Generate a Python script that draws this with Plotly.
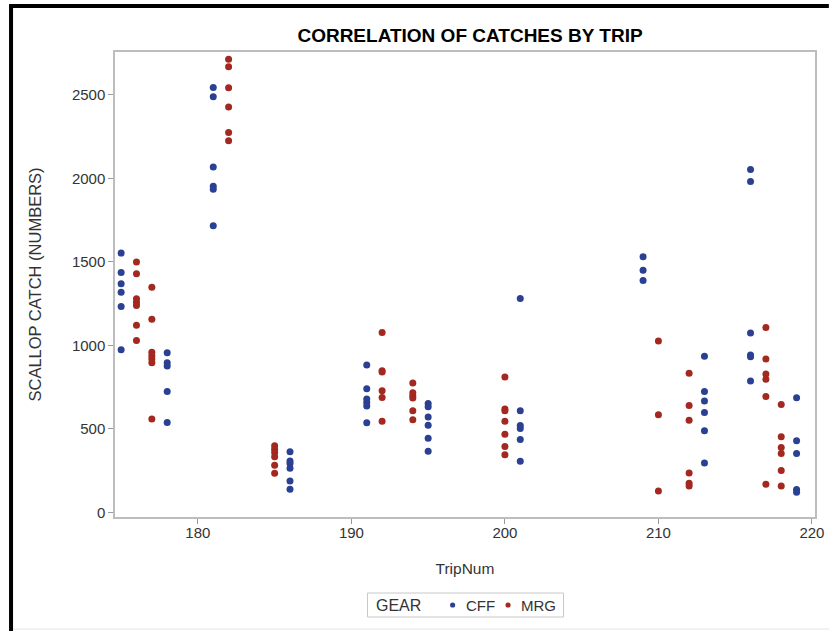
import plotly.graph_objects as go

# Scallop catch per trip, split by gear type
cff_trip = [175]*6 + [178]*5 + [181]*6 + [186]*6 + [191]*6 + [195]*6 + [201]*6 + [209]*3 + [213]*6 + [216]*6 + [219]*5
cff_catch = [1553, 1437, 1369, 1319, 1233, 975,
             957, 897, 877, 725, 539,
             2545, 2489, 2069, 1953, 1935, 1717,
             363, 309, 293, 265, 189, 139,
             883, 741, 679, 659, 637, 537,
             653, 633, 571, 523, 445, 367,
             1281, 609, 521, 503, 437, 307,
             1531, 1451, 1389,
             935, 725, 667, 599, 489, 297,
             2053, 1981, 1075, 943, 933, 787,
             687, 429, 353, 137, 121]

mrg_trip = [176]*7 + [177]*7 + [182]*6 + [185]*6 + [192]*6 + [194]*6 + [200]*7 + [210]*3 + [212]*6 + [217]*6 + [218]*6
mrg_catch = [1499, 1429, 1279, 1259, 1239, 1121, 1029,
             1349, 1157, 959, 939, 919, 897, 559,
             2713, 2669, 2543, 2427, 2275, 2225,
             399, 379, 359, 333, 283, 235,
             1077, 849, 841, 729, 689, 547,
             775, 717, 699, 685, 609, 555,
             811, 619, 609, 547, 469, 395, 345,
             1027, 585, 129,
             833, 641, 553, 237, 175, 159,
             1107, 919, 829, 797, 695, 169,
             647, 453, 389, 353, 251, 159]

x_ticks = [180, 190, 200, 210, 220]
y_ticks = [0, 500, 1000, 1500, 2000, 2500]

gear_names = ["CFF", "MRG"]
BLUE = "#2A4093"
RED = "#A3281F"
gear_colors = [BLUE, RED]
FONT = "Liberation Sans, Arial, sans-serif"
TXT = "#333333"

W, H = 836, 631
ML, MR, MT, MB = 115, 14, 52, 114
PW, PH = W - ML - MR, H - MT - MB


def px_x(px):
    return (px - ML) / PW


def px_y(py):
    return (H - MB - py) / PH


fig = go.Figure()
fig.add_trace(go.Scatter(x=cff_trip, y=cff_catch, mode="markers", name=gear_names[0],
                         marker=dict(color=gear_colors[0], size=7)))
fig.add_trace(go.Scatter(x=mrg_trip, y=mrg_catch, mode="markers", name=gear_names[1],
                         marker=dict(color=gear_colors[1], size=7)))

axis_common = dict(showgrid=False, zeroline=False, showline=True, mirror=True,
                   linecolor="#BDBDBD", linewidth=1.5, ticks="outside",
                   tickcolor="#9A9A9A", ticklen=5, tickwidth=1,
                   tickfont=dict(family=FONT, size=15, color=TXT))

fig.update_xaxes(range=[174.6, 220.2], tickvals=x_ticks, ticklabelstandoff=-4,
                 title=dict(text="TripNum", standoff=23,
                            font=dict(family=FONT, size=15.5, color=TXT)),
                 **axis_common)
fig.update_yaxes(range=[-27, 2757], tickvals=y_ticks,
                 title=dict(text="SCALLOP CATCH (NUMBERS)", standoff=26,
                            font=dict(family=FONT, size=16.5, color=TXT)),
                 **axis_common)

# page frame: heavy rule along the left and top edges, faint rule at the bottom
frame = dict(color="black", width=4)
fig.add_shape(type="line", xref="paper", yref="paper",
              x0=px_x(10), y0=px_y(H), x1=px_x(10), y1=px_y(6), line=frame)
fig.add_shape(type="line", xref="paper", yref="paper",
              x0=px_x(8), y0=px_y(6), x1=px_x(W), y1=px_y(6), line=frame)
fig.add_shape(type="line", xref="paper", yref="paper",
              x0=px_x(12), y0=px_y(629), x1=px_x(W), y1=px_y(629),
              line=dict(color="#E2E2E2", width=1))

# legend box below the axis: "GEAR" label followed by a dot and name per gear
fig.add_shape(type="rect", xref="paper", yref="paper",
              x0=px_x(370), x1=px_x(568), y0=px_y(617), y1=px_y(593),
              line=dict(color="#C8C8C8", width=1), fillcolor="white")
ly = px_y(605)
fig.add_annotation(text="GEAR", xref="paper", yref="paper", x=px_x(377), y=ly,
                   xanchor="left", yanchor="middle", showarrow=False,
                   font=dict(family=FONT, size=16, color=TXT))
dot_px = [456, 512]
label_px = [467, 523]
r = 2.6
for name, col, dx, tx in zip(gear_names, gear_colors, dot_px, label_px):
    fig.add_shape(type="circle", xref="paper", yref="paper",
                  x0=px_x(dx - r), x1=px_x(dx + r), y0=px_y(605 + r), y1=px_y(605 - r),
                  line=dict(width=0), fillcolor=col)
    fig.add_annotation(text=name, xref="paper", yref="paper", x=px_x(tx), y=ly,
                       xanchor="left", yanchor="middle", showarrow=False,
                       font=dict(family=FONT, size=15, color=TXT))

fig.update_layout(
    width=W, height=H,
    margin=dict(l=ML, r=MR, t=MT, b=MB),
    paper_bgcolor="white", plot_bgcolor="white",
    title=dict(text="<b>CORRELATION OF CATCHES BY TRIP</b>",
               xref="container", x=470 / W, xanchor="center",
               yref="container", y=1 - 35 / H, yanchor="middle",
               font=dict(family=FONT, size=19, color="black")),
    showlegend=False,
)

fig.write_html("out.html")
